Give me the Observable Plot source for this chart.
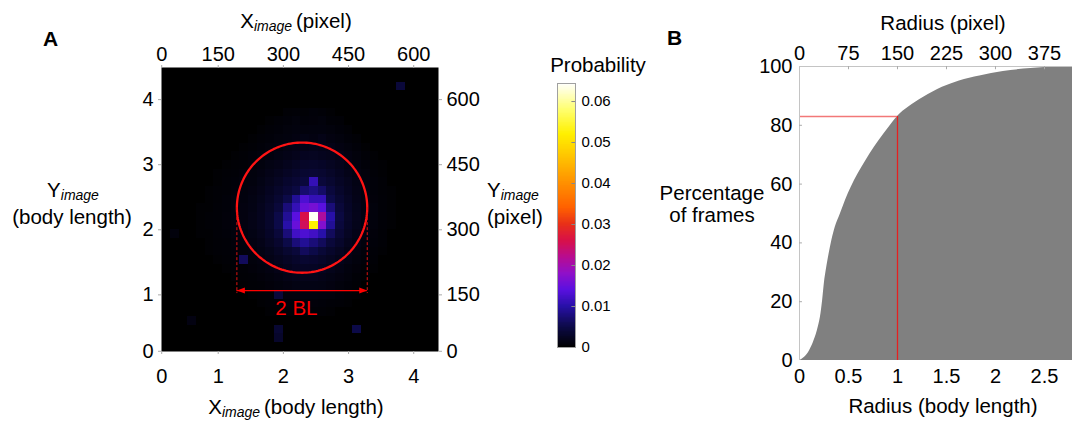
<!DOCTYPE html>
<html><head><meta charset="utf-8">
<script src="https://cdn.jsdelivr.net/npm/d3@7"></script>
<script src="https://cdn.jsdelivr.net/npm/@observablehq/plot@0.6"></script>
<style>
html,body{margin:0;padding:0;background:#fff;overflow:hidden;}
#fig{position:relative;width:1072px;height:421px;font-family:"Liberation Sans",Arial,sans-serif;}
#fig > svg{position:absolute;top:0;}
</style></head><body><div id="fig"></div>
<script>
// ---------- Panel A: 2-D histogram of positions (bins of 20 image pixels) ----------
const binSize = 20;             // image pixels per bin
const gridCol0 = 4;             // column index of first value in each row
const gridRowTop = 28;          // row index of the first row below
// probability ×1e-3, rows from j=28 (top) down to j=5
const probRows = [
 [0,0,0,0,0,0,0,0,0,0,0,0.4,0.5,0.4,0.6,0.5,0.3,0,0,0,0,0,0,0],
 [0,0,0,0,0,0,0,0,0,0.3,0.5,0.6,0.8,0.6,0.7,0.8,0.5,0.4,0,0,0,0,0,0],
 [0,0,0,0,0,0,0,0,0.3,0.5,0.6,0.8,1,0.9,1,1,0.8,0.6,0.4,0,0,0,0,0],
 [0,0,0,0,0,0,0,0.3,0.5,0.6,0.8,1,1.2,1.4,1.2,1.5,1.1,0.9,0.6,0.4,0,0,0,0],
 [0,0,0,0,0,0,0.3,0.4,0.6,0.8,1,1.3,1.5,1.6,1.8,1.7,1.5,1.2,0.9,0.6,0.3,0,0,0],
 [0,0,0,0,0,0.3,0.4,0.6,0.8,1,1.3,1.6,1.9,2.2,2.3,2.1,1.9,1.5,1.2,0.8,0.5,0.3,0,0],
 [0,0,0,0,0.3,0.4,0.5,0.7,1,1.3,1.6,2,2.4,2.8,2.9,2.7,2.3,1.9,1.4,1,0.6,0.4,0.3,0],
 [0,0,0,0.3,0.4,0.5,0.7,0.9,1.2,1.6,2,2.5,3,3.4,3.6,3.3,2.8,2.2,1.7,1.2,0.8,0.5,0.3,0],
 [0,0,0,0.3,0.5,0.6,0.8,1,1.4,1.9,2.4,3.1,3.6,4.2,11,4,3.3,2.6,2,1.4,0.9,0.6,0.4,0],
 [0,0,0.3,0.4,0.5,0.7,0.9,1.2,1.6,2.2,2.9,3.7,4.5,7,8,6.5,4.2,3,2.2,1.5,1,0.6,0.4,0.3],
 [0,0,0.3,0.4,0.6,0.8,1,1.3,1.8,2.5,3.4,5,9,13,11,11,5,3.5,2.5,1.7,1.1,0.7,0.5,0.3],
 [0,0.3,0.3,0.5,0.6,0.8,1.1,1.4,2,2.8,4,7.5,11,15,16,14,7.5,4,2.7,1.8,1.2,0.8,0.5,0.3],
 [0,0.3,0.4,0.5,0.7,0.9,1.1,1.5,2.1,3,5,9,14,26,64,21,10,4.5,2.8,1.9,1.2,0.8,0.5,0.3],
 [0,0.3,0.4,0.5,0.7,0.9,1.1,1.5,2.1,3,5,10,15,25,52,17,9,4.2,2.7,1.8,1.2,0.8,0.5,0.3],
 [0,0.3,0.3,0.5,0.6,0.8,1,1.4,1.9,2.7,4,7.5,12,13,12,10,6,3.6,2.4,1.6,1.1,0.7,0.4,0],
 [0,0,0.3,0.4,0.5,0.7,0.9,1.2,1.6,2.3,3.2,5,7.5,9,7.5,6,4,3,2,1.4,0.9,0.6,0.4,0],
 [0,0,0.3,0.4,0.5,0.6,0.8,1,1.3,1.8,2.5,3.3,4,6,5,3.8,3,2.3,1.6,1.1,0.7,0.5,0.3,0],
 [0,0,0,0.3,0.4,0.5,6,0.8,1.1,1.5,2,2.5,3,3.4,3.2,2.8,2.3,1.8,1.3,0.9,0.6,0.4,0,0],
 [0,0,0,0,0.3,0.4,0.5,0.7,0.9,1.2,1.6,2,2.4,2.6,2.5,2.2,1.8,1.4,1,0.7,0.4,0.3,0,0],
 [0,0,0,0,0,0.3,0.4,0.5,0.7,0.9,1.2,1.5,1.8,1.9,1.9,1.7,1.4,1.1,0.8,0.5,0.3,0,0,0],
 [0,0,0,0,0,0,0.3,0.4,0.5,0.7,0.9,1.1,1.3,1.4,1.4,1.3,1.1,0.8,0.6,0.4,0,0,0,0],
 [0,0,0,0,0,0,0,0.3,0.4,0.5,4,0.8,0.9,1,1,0.9,0.8,0.6,0.4,0.3,0,0,0,0],
 [0,0,0,0,0,0,0,0,0.3,0.4,0.5,0.6,0.6,0.7,0.7,0.6,0.5,0.4,0.3,0,0,0,0,0],
 [0,0,0,0,0,0,0,0,0,0.3,0.3,0.4,0.4,0.5,0.5,0.4,0.3,0,0,0,0,0,0,0]
];
// isolated bins outside the grid above (col, row, probability ×1e-3)
const extraCol  = [28, 23, 14, 14, 4, 2];
const extraRow  = [31, 3, 3, 2, 4, 14];
const extraProb = [4, 5, 3.5, 3, 1.2, 0.8];

// axis extents (image pixels) and ticks
const imgXDomain = [19.5, 657];
const imgYDomain = [19.5, 674];
const tickPosPx   = [20, 150, 300, 450, 600];
const tickLabelBL = ["0", "1", "2", "3", "4"];
const tickLabelPx = ["0", "150", "300", "450", "600"];

// annotation: circle of 1 body length (150 px) radius
const circleCenter = [343, 351];
const circleRadius = 150;
const arrowY = 160;
const dashBottom = 153;
const bandLabel = {x: 330, y: 118, text: "2 BL"};

// colour map (Probability)
const probStops  = [0, 0.005, 0.01, 0.014, 0.018, 0.022, 0.026, 0.03, 0.034, 0.04, 0.046, 0.052, 0.058, 0.0644];
const probColors = ["#000000","#0c0a48","#2810a8","#5a10e0","#9010c8","#b80c90","#d81048","#e83018","#ff6000","#ff9000","#ffc000","#fff000","#ffff70","#ffffff"];
const colorbarTicks = [0, 0.01, 0.02, 0.03, 0.04, 0.05, 0.06];

// ---------- Panel B: cumulative distribution of radius ----------
const radiusBL = [0,0.052,0.104,0.149,0.191,0.219,0.236,0.253,0.278,0.302,0.33,0.365,0.417,0.469,0.528,0.597,0.677,0.764,0.861,0.962,1.0,1.111,1.267,1.458,1.632,1.84,2.08,2.36,2.64,2.83];
const pctFrames = [0,1.1,3.4,6.8,11.3,15.9,20.4,26,31.7,36.2,40.8,45.3,49.8,54.4,58.9,63.4,67.9,72.5,77,81.5,83,86.1,89.5,92.9,95.1,96.8,98.3,99.3,99.9,100];
const markRadius = 1, markPct = 83;
const bXTicks = [0, 0.5, 1, 1.5, 2, 2.5];
const bXTickLabels = ["0", "0.5", "1", "1.5", "2", "2.5"];
const bTopTickLabels = ["0", "75", "150", "225", "300", "375"];
const bYTicks = [0, 20, 40, 60, 80, 100];

// ---------- build ----------
const FONT = '"Liberation Sans", Arial, sans-serif';
const fig = document.getElementById("fig");

const cells = [];
probRows.forEach((row, r) => {
  const j = gridRowTop - r;
  row.forEach((v, c) => {
    const i = gridCol0 + c;
    if (v > 0) cells.push({x1: i*binSize, x2: (i+1)*binSize, y1: j*binSize, y2: (j+1)*binSize, p: v/1000});
  });
});
extraCol.forEach((i, k) => cells.push({x1: i*binSize, x2: (i+1)*binSize, y1: extraRow[k]*binSize, y2: (extraRow[k]+1)*binSize, p: extraProb[k]/1000}));

const colorSpec = {type: "linear", domain: probStops, range: probColors, interpolate: "rgb", clamp: true};
const circlePts = d3.range(0, 361, 2).map(a => ({
  x: circleCenter[0] + circleRadius*Math.cos(a*Math.PI/180),
  y: circleCenter[1] + circleRadius*Math.sin(a*Math.PI/180)
}));
const headRight = {draw(ctx){ctx.moveTo(0,0);ctx.lineTo(-8,-3);ctx.lineTo(-8,3);ctx.closePath();}};
const headLeft  = {draw(ctx){ctx.moveTo(0,0);ctx.lineTo(8,-3);ctx.lineTo(8,3);ctx.closePath();}};
const xl = circleCenter[0] - circleRadius, xr = circleCenter[0] + circleRadius;
const mapBL = new Map(tickPosPx.map((d,i)=>[d, tickLabelBL[i]]));
const mapPx = new Map(tickPosPx.map((d,i)=>[d, tickLabelPx[i]]));

const plotA = Plot.plot({
  width: 540, height: 421,
  marginLeft: 161, marginRight: 102, marginTop: 67, marginBottom: 70,
  style: {fontFamily: FONT, fontSize: "20px", color: "#000", background: "transparent", overflow: "visible"},
  x: {domain: imgXDomain},
  y: {domain: imgYDomain},
  color: colorSpec,
  marks: [
    Plot.frame({fill: "#000"}),
    Plot.rect(cells, {x1: "x1", x2: "x2", y1: "y1", y2: "y2", fill: "p", clip: true, shapeRendering: "crispEdges"}),
    Plot.line(circlePts, {x: "x", y: "y", stroke: "#ff1414", strokeWidth: 2.3}),
    Plot.ruleX([xl, xr], {y1: circleCenter[1], y2: dashBottom, stroke: "#e01010", strokeWidth: 1, strokeDasharray: "3,2"}),
    Plot.ruleY([arrowY], {x1: xl, x2: xr, stroke: "#ff0000", strokeWidth: 1.2}),
    Plot.dot([{x: xr, y: arrowY}], {x: "x", y: "y", symbol: headRight, fill: "#ff0000", stroke: null}),
    Plot.dot([{x: xl, y: arrowY}], {x: "x", y: "y", symbol: headLeft, fill: "#ff0000", stroke: null}),
    Plot.text([bandLabel], {x: "x", y: "y", text: "text", fill: "#ff0000", fontSize: 20.5}),
    Plot.axisX({anchor: "bottom", ticks: tickPosPx, tickFormat: d => mapBL.get(d), tickSize: 3, tickPadding: 14, stroke: "#aaa", fill: "#000", label: null}),
    Plot.axisX({anchor: "top", ticks: tickPosPx, tickFormat: d => mapPx.get(d), tickSize: 3, tickPadding: 4, stroke: "#aaa", fill: "#000", label: null}),
    Plot.axisY({anchor: "left", ticks: tickPosPx, tickFormat: d => mapBL.get(d), tickSize: 3, tickPadding: 5, stroke: "#aaa", fill: "#000", label: null}),
    Plot.axisY({anchor: "right", ticks: tickPosPx, tickFormat: d => mapPx.get(d), tickSize: 3, tickPadding: 5, stroke: "#aaa", fill: "#000", label: null})
  ]
});
plotA.style.left = "0px";
fig.appendChild(plotA);

const cbSteps = d3.range(0, 0.0644, 0.0002);
const plotCB = Plot.plot({
  width: 110, height: 421,
  marginLeft: 17, marginRight: 75, marginTop: 83, marginBottom: 74,
  style: {fontFamily: FONT, fontSize: "15px", color: "#000", background: "transparent", overflow: "visible"},
  x: {domain: [0, 1], axis: null},
  y: {domain: [0, 0.0644]},
  color: colorSpec,
  marks: [
    Plot.rect(cbSteps, {x1: 0, x2: 1, y1: d => d, y2: d => d + 0.0005, fill: d => d + 0.0001, clip: true, shapeRendering: "crispEdges"}),
    Plot.frame({stroke: "#a0a0a0"}),
    Plot.ruleY(colorbarTicks.slice(1), {x1: 0.8, x2: 1, stroke: "#888"}),
    Plot.axisY({anchor: "right", ticks: colorbarTicks, tickFormat: d => d === 0 ? "0" : d.toFixed(2), tickSize: 0, tickPadding: 6, fill: "#000", label: null})
  ]
});
plotCB.style.left = "540px";
fig.appendChild(plotCB);

const areaData = radiusBL.map((r, i) => ({r, p: pctFrames[i]}));
const mapBX = new Map(bXTicks.map((d,i)=>[d, bXTickLabels[i]]));
const mapBT = new Map(bXTicks.map((d,i)=>[d, bTopTickLabels[i]]));
const plotB = Plot.plot({
  width: 422, height: 421,
  marginLeft: 149, marginRight: 0, marginTop: 66, marginBottom: 61,
  style: {fontFamily: FONT, fontSize: "20px", color: "#000", background: "transparent", overflow: "visible"},
  x: {domain: [0, 2.786]},
  y: {domain: [0, 100]},
  marks: [
    Plot.areaY(areaData, {x: "r", y: "p", fill: "#808080", curve: "monotone-x"}),
    Plot.ruleY([markPct], {x1: 0, x2: markRadius, stroke: "#f27878", strokeWidth: 1.5}),
    Plot.ruleX([markRadius], {y1: 0, y2: markPct, stroke: "#e52020", strokeWidth: 1.3}),
    Plot.ruleX([0], {stroke: "#c4c4c4", strokeWidth: 1}),
    Plot.ruleY([100], {stroke: "#c4c4c4", strokeWidth: 1}),
    Plot.ruleY(bYTicks.slice(1, -1), {x1: 0, x2: 0.03, stroke: "#aaa"}),
    Plot.ruleX(bXTicks.slice(1), {y1: 100, y2: 98.9, stroke: "#aaa"}),
    Plot.axisX({anchor: "bottom", ticks: bXTicks, tickFormat: d => mapBX.get(d), tickSize: 0, tickPadding: 8, fill: "#000", label: null}),
    Plot.axisX({anchor: "top", ticks: bXTicks, tickFormat: d => mapBT.get(d), tickSize: 0, tickPadding: 7, fill: "#000", label: null}),
    Plot.axisY({anchor: "left", ticks: bYTicks, tickSize: 0, tickPadding: 7, fill: "#000", label: null})
  ]
});
plotB.style.left = "650px";
fig.appendChild(plotB);

// ---------- text labels ----------
const ov = d3.select(fig).append("svg")
  .attr("width", 1072).attr("height", 421)
  .style("left", "0px").style("pointer-events", "none")
  .attr("font-family", FONT).attr("fill", "#000");
function label(x, y, parts, anchor = "middle", weight = "normal") {
  const t = ov.append("text").attr("x", x).attr("y", y).attr("text-anchor", anchor).attr("font-weight", weight);
  parts.forEach(p => {
    const s = t.append("tspan").text(p.t).attr("font-size", p.s || 20.5);
    if (p.i) s.attr("font-style", "italic");
    if (p.dy) s.attr("dy", p.dy);
  });
}
const sub = (name) => [{t: name}, {t: "image ", s: 14, i: true, dy: 3}];
label(43, 46, [{t: "A", s: 21}], "start", "bold");
label(667, 45, [{t: "B", s: 21}], "start", "bold");
label(296, 28, [...sub("X"), {t: "(pixel)", dy: -3}]);
label(296, 414, [...sub("X"), {t: "(body length)", dy: -3}]);
label(73, 197, [...sub("Y")]);
label(72, 224, [{t: "(body length)"}]);
label(487, 197, [...sub("Y")], "start");
label(487, 224, [{t: "(pixel)"}], "start");
label(598, 72, [{t: "Probability"}]);
label(943, 30, [{t: "Radius (pixel)"}]);
label(943, 413, [{t: "Radius (body length)"}]);
label(712, 200, [{t: "Percentage"}]);
label(712, 222, [{t: "of frames"}]);
</script></body></html>
